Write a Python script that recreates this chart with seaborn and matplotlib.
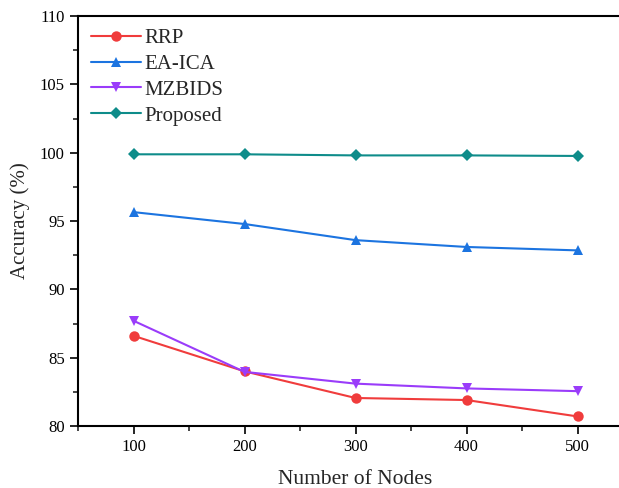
import matplotlib
matplotlib.use("Agg")
import matplotlib.pyplot as plt
import seaborn as sns
import pandas as pd
from matplotlib.ticker import MultipleLocator

nodes = [100, 200, 300, 400, 500]
rrp = [86.6, 84.0, 82.05, 81.9, 80.7]
ea_ica = [95.65, 94.78, 93.6, 93.1, 92.85]
mzbids = [87.7, 83.96, 83.1, 82.75, 82.55]
proposed = [99.88, 99.88, 99.8, 99.8, 99.76]

series_names = ["RRP", "EA-ICA", "MZBIDS", "Proposed"]
series_vals = [rrp, ea_ica, mzbids, proposed]
colors = ["#F03C3C", "#1C74E0", "#9A3CFA", "#0E8C8A"]
markers = ["o", "^", "v", "D"]

sns.set_theme(style="ticks")
plt.rcParams["font.family"] = ["Liberation Serif", "DejaVu Serif"]

fig = plt.figure(figsize=(6.19, 4.88), dpi=100)
ax = fig.add_axes([78/619, 62/488, 555/619, 410/488])

for name, vals, c, m in zip(series_names, series_vals, colors, markers):
    df = pd.DataFrame({"Nodes": nodes, "Accuracy": vals})
    sns.lineplot(data=df, x="Nodes", y="Accuracy", ax=ax, color=c, marker=m,
                 markersize=7.5 if m != "D" else 6.5, markeredgewidth=0, linewidth=1.5,
                 label=name)

ax.set_xlim(50, 550)
ax.set_ylim(80, 110)
ax.xaxis.set_major_locator(MultipleLocator(100))
ax.xaxis.set_minor_locator(MultipleLocator(50))
ax.yaxis.set_major_locator(MultipleLocator(5))
ax.yaxis.set_minor_locator(MultipleLocator(2.5))
ax.tick_params(axis="both", which="major", direction="out", length=6, width=1.2,
               labelsize=12, colors="black")
ax.tick_params(axis="both", which="minor", direction="out", length=3.5, width=1.2)
for s in ax.spines.values():
    s.set_linewidth(1.5)
    s.set_color("black")
ax.set_xlabel("Number of Nodes", fontsize=15.5, labelpad=11)
ax.set_ylabel("Accuracy (%)", fontsize=15, labelpad=7)

leg = ax.legend(loc="upper left", frameon=False, fontsize=15,
                handlelength=2.4, handletextpad=0.2, labelspacing=0.3,
                borderaxespad=0.2, bbox_to_anchor=(0.0, 1.0))

fig.savefig("out.png", dpi=100)
